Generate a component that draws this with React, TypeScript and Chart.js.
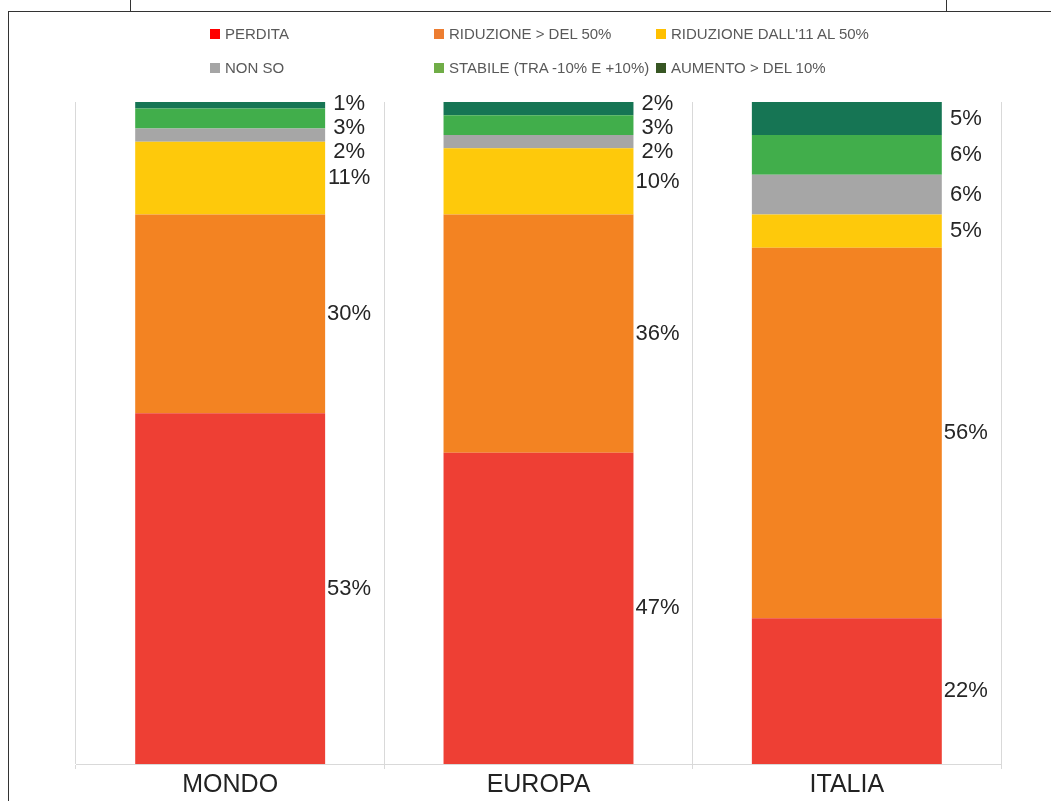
import React, { useEffect, useRef } from "react";
import { Chart, registerables } from "chart.js";

Chart.register(...registerables);

const categories = ["MONDO", "EUROPA", "ITALIA"];
const seriesNames = [
  "PERDITA",
  "RIDUZIONE > DEL 50%",
  "RIDUZIONE DALL'11 AL 50%",
  "NON SO",
  "STABILE (TRA -10% E +10%)",
  "AUMENTO > DEL 10%",
];
const perdita = [53, 47, 22];
const riduzione50 = [30, 36, 56];
const riduzione11 = [11, 10, 5];
const nonSo = [2, 2, 6];
const stabile = [3, 3, 6];
const aumento = [1, 2, 5];
const seriesValues = [perdita, riduzione50, riduzione11, nonSo, stabile, aumento];
const barColors = ["#EE3F34", "#F38322", "#FEC90B", "#A6A6A6", "#41AE4B", "#167554"];
const legendColors = ["#FF0000", "#ED7D31", "#FFC000", "#A5A5A5", "#70AD47", "#375623"];
// legend order in the grid (rows of three)
const legendOrder = [0, 1, 2, 3, 4, 5];

const labelPlugin = {
  id: "stackLabels",
  afterDatasetsDraw(chart: any) {
    const ctx = chart.ctx;
    const minGap = 24;
    const topLimit = chart.chartArea.top + 2;
    ctx.save();
    ctx.font = "22px 'Liberation Sans', Arial, sans-serif";
    ctx.fillStyle = "#262626";
    ctx.textAlign = "center";
    ctx.textBaseline = "middle";
    const nCat = chart.data.labels.length;
    for (let c = 0; c < nCat; c++) {
      const items: any[] = [];
      chart.data.datasets.forEach((ds: any, di: number) => {
        const meta = chart.getDatasetMeta(di);
        const el = meta.data[c];
        if (!el) return;
        const props = el.getProps(["x", "y", "base", "width"], true);
        items.push({
          text: ds.data[c] + "%",
          x: props.x + props.width / 2 + 24,
          ideal: (props.y + props.base) / 2,
        });
      });
      items.sort((a, b) => a.ideal - b.ideal);
      let clusters: any[] = items.map((it) => ({ members: [it] }));
      const place = (cl: any) => {
        const mean = cl.members.reduce((s: number, m: any) => s + m.ideal, 0) / cl.members.length;
        cl.start = mean - ((cl.members.length - 1) * minGap) / 2;
      };
      clusters.forEach(place);
      let changed = true;
      while (changed) {
        changed = false;
        for (let i = 0; i < clusters.length - 1; i++) {
          const a: any = clusters[i];
          const b: any = clusters[i + 1];
          const aEnd = a.start + (a.members.length - 1) * minGap;
          if (b.start - aEnd < minGap) {
            const merged: any = { members: a.members.concat(b.members) };
            place(merged);
            clusters.splice(i, 2, merged);
            changed = true;
            break;
          }
        }
      }
      let prevEnd = -Infinity;
      clusters.forEach((cl: any) => {
        const s = Math.max(cl.start, topLimit, prevEnd + minGap);
        cl.members.forEach((m: any, k: number) => {
          ctx.fillText(m.text, m.x, s + k * minGap);
        });
        prevEnd = s + (cl.members.length - 1) * minGap;
      });
    }
    ctx.restore();
  },
};

export default function App() {
  const canvasRef = useRef<HTMLCanvasElement | null>(null);

  useEffect(() => {
    if (!canvasRef.current) return;
    const chart = new Chart(canvasRef.current, {
      type: "bar",
      data: {
        labels: categories,
        datasets: seriesNames.map((name, i) => ({
          label: name,
          data: seriesValues[i],
          backgroundColor: barColors[i],
          borderWidth: 0,
          categoryPercentage: 1,
          barPercentage: 0.616,
        })),
      },
      options: {
        responsive: false,
        animation: false,
        devicePixelRatio: 1,
        layout: { padding: { left: 76, right: 50, top: 102, bottom: 0 } },
        plugins: {
          legend: { display: false },
          tooltip: { enabled: false },
          title: { display: false },
        },
        scales: {
          x: {
            stacked: true,
            grid: {
              display: true,
              offset: true,
              color: "#D9D9D9",
              lineWidth: 1,
              tickLength: 5,
              drawOnChartArea: true,
            },
            border: { display: true, color: "#D9D9D9", width: 1 },
            ticks: {
              color: "#222222",
              padding: 1,
              font: { family: "'Liberation Sans', Arial, sans-serif", size: 25 },
            },
          },
          y: {
            stacked: true,
            display: false,
            min: 0,
            max: 100,
          },
        },
      },
      plugins: [labelPlugin],
    });
    return () => chart.destroy();
  }, []);

  const legendCols = [210, 434, 656];
  const legendRows = [34, 68];

  return (
    <div
      style={{
        position: "absolute",
        left: 0,
        top: 0,
        width: 1051,
        height: 801,
        overflow: "hidden",
        background: "#ffffff",
        fontFamily: "'Liberation Sans', Arial, sans-serif",
      }}
    >
      <canvas
        ref={canvasRef}
        width={1051}
        height={801}
        style={{ position: "absolute", left: 0, top: 0, width: 1051, height: 801 }}
      />
      {/* frame lines */}
      <div style={{ position: "absolute", left: 8, top: 11, width: 1043, height: 0, borderTop: "1.5px solid #333" }} />
      <div style={{ position: "absolute", left: 8, top: 11, width: 0, height: 790, borderLeft: "1.5px solid #333" }} />
      <div style={{ position: "absolute", left: 130, top: 0, width: 0, height: 12, borderLeft: "1.5px solid #333" }} />
      <div style={{ position: "absolute", left: 946, top: 0, width: 0, height: 12, borderLeft: "1.5px solid #333" }} />
      {/* legend */}
      {legendOrder.map((si, idx) => {
        const col = idx % 3;
        const row = Math.floor(idx / 3);
        const cy = legendRows[row];
        return (
          <div
            key={si}
            style={{
              position: "absolute",
              left: legendCols[col],
              top: cy - 10,
              height: 20,
              display: "flex",
              alignItems: "center",
              whiteSpace: "nowrap",
            }}
          >
            <span
              style={{
                display: "inline-block",
                width: 10,
                height: 10,
                background: legendColors[si],
                marginRight: 5,
              }}
            />
            <span style={{ fontSize: 15, color: "#595959", lineHeight: "20px" }}>{seriesNames[si]}</span>
          </div>
        );
      })}
    </div>
  );
}
